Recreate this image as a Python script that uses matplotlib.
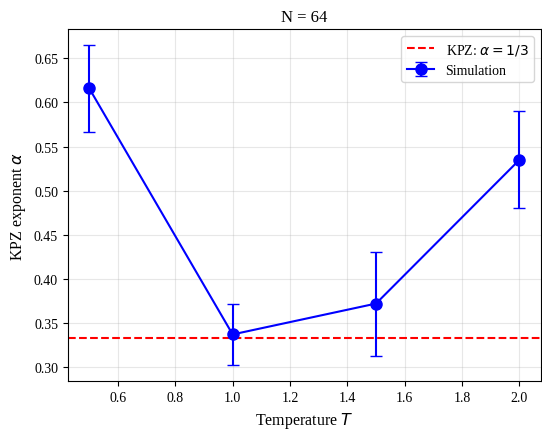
import matplotlib
matplotlib.use("Agg")
import matplotlib.pyplot as plt

plt.rcParams['font.family'] = ['Liberation Serif', 'DejaVu Serif']

temperatures = [0.5, 1.0, 1.5, 2.0]
alpha_values = [0.616, 0.337, 0.372, 0.535]
alpha_errors = [0.049, 0.035, 0.059, 0.055]
kpz_value = 1 / 3

fig, ax = plt.subplots(figsize=(5.42, 4.31), dpi=100)
ax.axhline(kpz_value, color='red', linestyle='--', linewidth=1.5, label=r'KPZ: $\alpha = 1/3$')
ax.errorbar(temperatures, alpha_values, yerr=alpha_errors, fmt='o-', color='blue',
            markersize=8, capsize=4.5, linewidth=1.5, label='Simulation')
ax.set_xlabel(r'Temperature $T$', fontsize=11.5)
ax.set_ylabel(r'KPZ exponent $\alpha$', fontsize=11.5)
ax.set_title('N = 64')
ax.grid(True, alpha=0.3)
ax.legend(loc='upper right')
fig.subplots_adjust(left=0.125, right=0.998, top=0.93, bottom=0.113)
fig.savefig('out.png', dpi=100)
